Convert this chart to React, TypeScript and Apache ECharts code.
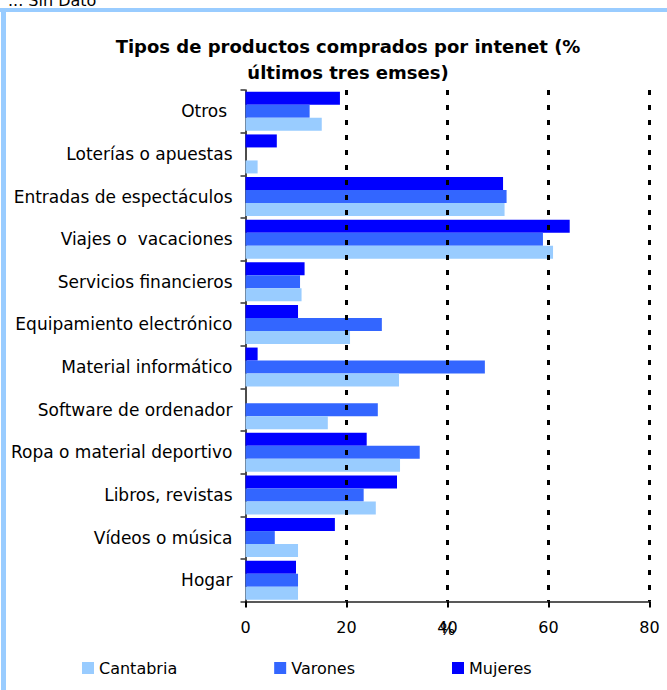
import React, { useEffect, useRef } from "react";
import * as echarts from "echarts";

const categories = [
  "Otros ",
  "Loterías o apuestas",
  "Entradas de espectáculos",
  "Viajes o  vacaciones",
  "Servicios financieros",
  "Equipamiento electrónico",
  "Material informático",
  "Software de ordenador",
  "Ropa o material deportivo",
  "Libros, revistas",
  "Vídeos o música",
  "Hogar",
];
const cantabria = [15.1, 2.4, 51.3, 60.9, 11.1, 20.7, 30.4, 16.3, 30.6, 25.8, 10.4, 10.4];
const varones = [12.7, 0, 51.7, 58.9, 10.8, 27.0, 47.4, 26.2, 34.5, 23.4, 5.8, 10.4];
const mujeres = [18.7, 6.2, 51.0, 64.2, 11.7, 10.4, 2.4, 0, 24.0, 30.0, 17.7, 10.0];
const gridValues = [20, 40, 60, 80];
const legendNames = ["Cantabria", "Varones", "Mujeres"];

const FONT = "DejaVu Sans";

export default function App() {
  const ref = useRef<HTMLDivElement>(null);
  useEffect(() => {
    if (!ref.current) return;
    const chart = echarts.init(ref.current, null, { renderer: "svg" });
    // drawing order inside each band: Mujeres on top, then Varones, then Cantabria
    const drawOrder = [
      { name: "Mujeres", data: mujeres, color: "#0000FF" },
      { name: "Varones", data: varones, color: "#3366FF" },
      { name: "Cantabria", data: cantabria, color: "#99CCFF" },
    ];
    chart.setOption({
      animation: false,
      backgroundColor: "#ffffff",
      textStyle: { fontFamily: FONT },
      title: {
        text: "Tipos de productos comprados por intenet (%\núltimos tres emses)",
        left: 348,
        textAlign: "center",
        top: 33,
        padding: 0,
        textStyle: {
          fontFamily: FONT,
          fontSize: 18,
          fontWeight: "bold",
          color: "#000",
          lineHeight: 26,
        },
      },
      legend: {
        data: legendNames,
        left: 82,
        top: 660,
        padding: 0,
        itemWidth: 12,
        itemHeight: 12,
        itemGap: 97,
        icon: "rect",
        textStyle: { fontFamily: FONT, fontSize: 16, color: "#000" },
      },
      grid: { left: 245.5, right: 17.5, top: 90, bottom: 88.5, containLabel: false },
      xAxis: {
        type: "value",
        min: 0,
        max: 80,
        interval: 20,
        name: "%",
        nameLocation: "middle",
        nameGap: 20,
        nameMoveOverlap: false,
        nameTextStyle: { fontFamily: FONT, fontSize: 16, color: "#000", verticalAlign: "top" },
        axisLine: { show: true, lineStyle: { color: "#222", width: 1.5 } },
        axisTick: { show: true, length: 6, lineStyle: { color: "#000", width: 2 } },
        axisLabel: { fontFamily: FONT, fontSize: 16, color: "#000", margin: 18 },
        splitLine: { show: false },
      },
      yAxis: {
        type: "category",
        data: categories,
        inverse: true,
        axisLine: { show: true, lineStyle: { color: "#111", width: 1.5 } },
        axisTick: { show: true, length: 5, lineStyle: { color: "#333", width: 1.5 } },
        axisLabel: { fontFamily: FONT, fontSize: 17, color: "#000", margin: 13 },
        splitLine: { show: false },
      },
      graphic: [
        { type: "rect", shape: { x: 0, y: 8, width: 667, height: 4 }, style: { fill: "#99CCFF" }, silent: true },
        { type: "rect", shape: { x: 1, y: 8, width: 5, height: 682 }, style: { fill: "#99CCFF" }, silent: true },
        {
          type: "text",
          x: 8,
          y: 8,
          style: {
            text: "... Sin Dato",
            fontFamily: FONT,
            fontSize: 16,
            fill: "#000",
            verticalAlign: "bottom",
          },
          silent: true,
        },
      ],
      series: [
        {
          type: "line",
          data: [],
          z: 1,
          silent: true,
          markLine: {
            silent: true,
            symbol: "none",
            label: { show: false },
            lineStyle: { color: "#000", width: 3, type: [5, 10], cap: "butt" },
            data: gridValues.map((v) => ({ xAxis: v })),
          },
        },
        ...drawOrder.map((s) => ({
          name: s.name,
          type: "bar",
          data: s.data,
          z: 3,
          barGap: "0%",
          barCategoryGap: "8.5%",
          itemStyle: { color: s.color },
        })),
      ],
    });
    return () => chart.dispose();
  }, []);
  return (
    <div
      ref={ref}
      style={{ position: "absolute", left: 0, top: 0, width: 667, height: 690, background: "#fff" }}
    />
  );
}
